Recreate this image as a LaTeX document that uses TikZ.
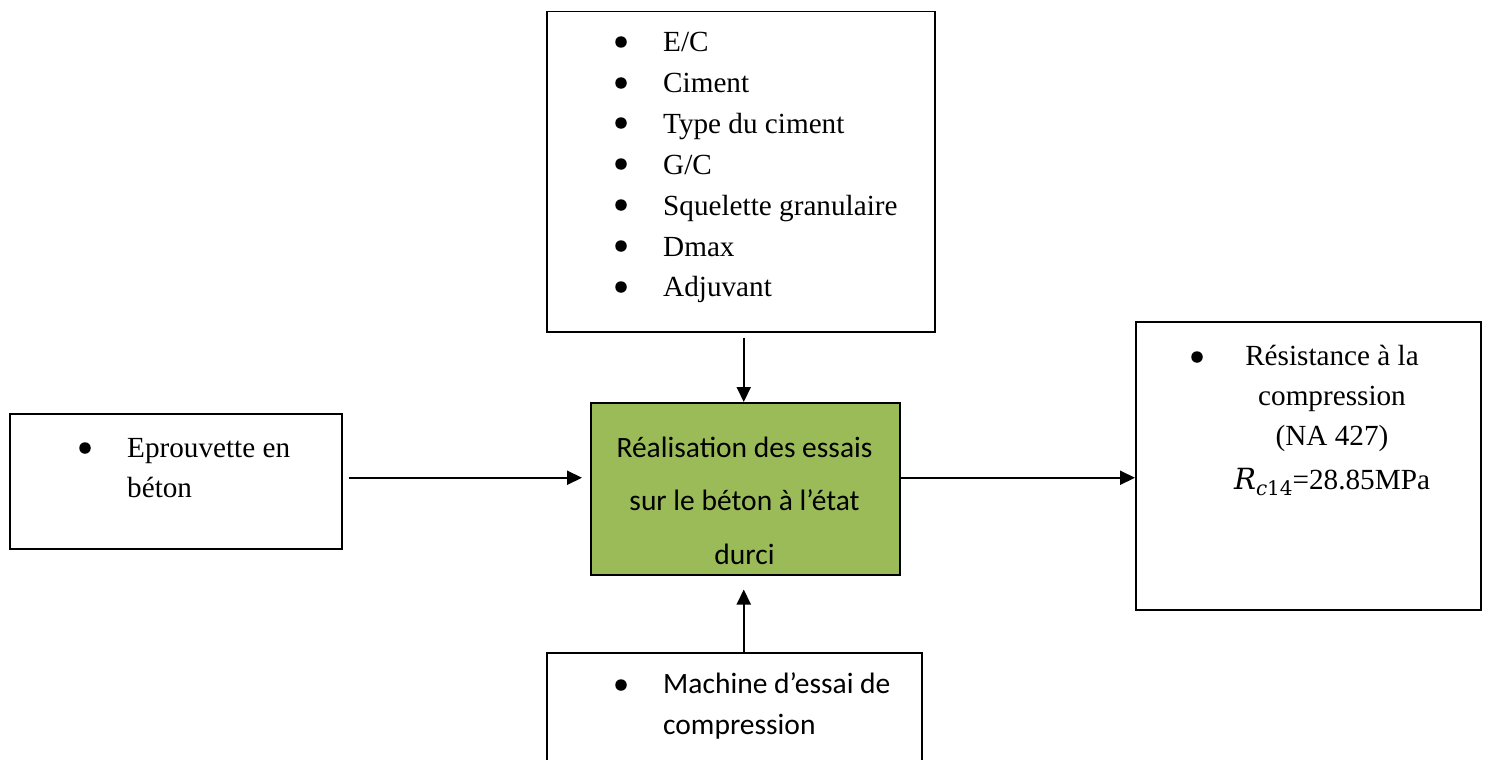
\documentclass[tikz,border=0pt]{standalone}
\usepackage{fontspec}
\setmainfont{Liberation Serif}
\newfontfamily\calfont{Carlito}
\newfontfamily\cambfont{DejaVu Serif}
\usetikzlibrary{arrows.meta}
\definecolor{olivegreen}{HTML}{9BBB59}
\begin{document}
\begin{tikzpicture}[x=1pt,y=-1pt,
  box/.style={draw=black,line width=1.5pt,rectangle,inner sep=0pt,anchor=north west},
  bul/.style={circle,fill=black,inner sep=0pt,minimum size=11.5pt},
  tim/.style={font=\fontsize{29.2}{40}\selectfont,inner sep=0pt},
  cal/.style={font=\calfont\fontsize{29.5}{40}\selectfont,inner sep=0pt},
  arr/.style={line width=2pt,-{Triangle[length=15pt,width=14pt]}}]
\useasboundingbox (0,0) rectangle (1486,760);
% boxes
\node[box,minimum width=388pt,minimum height=320pt] (top) at (546,11) {};
\node[box,minimum width=332pt,minimum height=135pt] (left) at (9,413) {};
\node[box,fill=olivegreen,minimum width=309pt,minimum height=172pt] (mid) at (590,402) {};
\node[box,minimum width=345pt,minimum height=288pt] (right) at (1135,321) {};
\node[box,minimum width=375pt,minimum height=160pt] (bot) at (546,652) {};
% top list
\node[bul] (tb1) at (621,42) {};
\node[bul] (tb2) at (621,83) {};
\node[bul] (tb3) at (621,123) {};
\node[bul] (tb4) at (621,164) {};
\node[bul] (tb5) at (621,205) {};
\node[bul] (tb6) at (621,246) {};
\node[bul] (tb7) at (621,287) {};
\node[tim,anchor=base west] (tt1) at (663,52) {E/C};
\node[tim,anchor=base west] (tt2) at (663,92.8) {Ciment};
\node[tim,anchor=base west] (tt3) at (663,133.6) {Type du ciment};
\node[tim,anchor=base west] (tt4) at (663,174.4) {G/C};
\node[tim,anchor=base west] (tt5) at (663,215.2) {Squelette granulaire};
\node[tim,anchor=base west] (tt6) at (663,256) {Dmax};
\node[tim,anchor=base west] (tt7) at (663,296.8) {Adjuvant};
% left
\node[bul] (lb) at (85,448) {};
\node[tim,anchor=base west] (lt1) at (127,457) {Eprouvette en};
\node[tim,anchor=base west] (lt2) at (127,497) {béton};
% middle
\node[cal,anchor=base] (mt1) at (744.5,457) {Réalisation des essais};
\node[cal,anchor=base] (mt2) at (744.5,510) {sur le béton à l’état};
\node[cal,anchor=base] (mt3) at (744.5,564) {durci};
% right
\node[bul] (rb) at (1197,357) {};
\node[tim,anchor=base] (rt1) at (1332,365) {Résistance à la};
\node[tim,anchor=base] (rt2) at (1332,405) {compression};
\node[tim,anchor=base] (rt3) at (1332,445) {(NA 427)};
\node[tim,anchor=base] (rt4) at (1332,489) {{\cambfont\itshape R}\raisebox{-6pt}{\fontsize{20}{20}\selectfont{\cambfont\itshape c}\cambfont 14}=28.85MPa};
% bottom
\node[bul] (bb) at (621,685) {};
\node[cal,anchor=base west] (bt1) at (663,693) {Machine d’essai de};
\node[cal,anchor=base west] (bt2) at (663,734) {compression};
% arrows
\draw[arr,shorten <=5pt] ([xshift=-1.5pt]mid.north |- top.south) -- ([xshift=-1.5pt]mid.north);
\draw[arr,shorten <=6pt,shorten >=8pt] ([yshift=3.5pt]left.east) -- ([yshift=3.5pt]left.east -| mid.west);
\draw[arr] ([yshift=11pt]mid.east) -- ([yshift=11pt]mid.east -| right.west);
\draw[arr,shorten >=14pt] ([xshift=-1.5pt]mid.south |- bot.north) -- ([xshift=-1.5pt]mid.south);
\end{tikzpicture}
\end{document}
